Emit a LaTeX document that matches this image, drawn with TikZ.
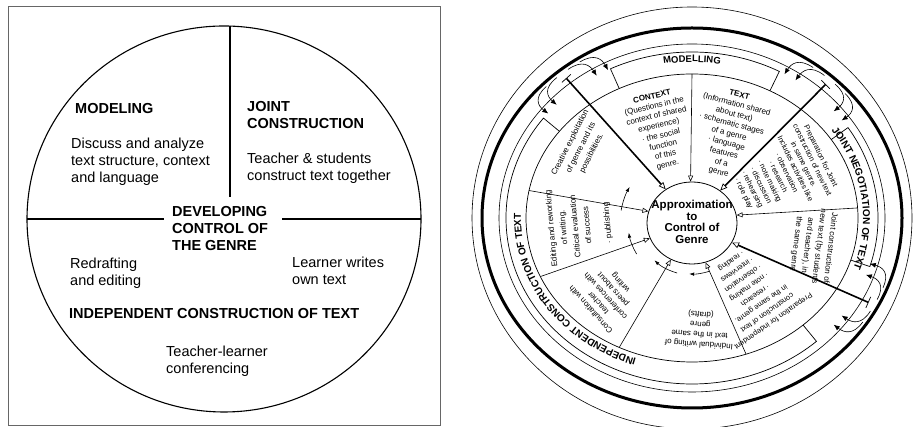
\documentclass[tikz,border=0pt]{standalone}
\usepackage{fontspec}
\setmainfont{Liberation Sans}
\usepackage{tikz}
\usetikzlibrary{shapes,arrows.meta,positioning,calc,decorations.text}

\newcommand{\bandfont}{\bfseries\fontsize{10}{12}\selectfont}

\tikzset{
  big/.style={inner sep=0pt, align=left, font=\fontsize{14.5}{17}\selectfont},
  bigb/.style={inner sep=0pt, align=left, font=\bfseries\fontsize{14.5}{17}\selectfont},
  wedge/.style={inner sep=0pt, align=center, font=\fontsize{8}{10}\selectfont},
  spoke/.style={line width=0.6pt, -{Triangle[open, length=6pt, width=5pt]}},
  mainspoke/.style={line width=1.6pt, {Bar[width=12pt, line width'=0.7pt]}-{Triangle[open, length=7pt, width=6pt, line width'=0.7pt]}},
  hook/.style={line width=0.6pt, -{Latex[length=6pt, width=5pt]}},
  swirl/.style={line width=0.6pt, -{Latex[length=5pt, width=3.5pt]}},
}

\begin{document}
\begin{tikzpicture}[x=1pt, y=1pt]
  \useasboundingbox (0,0) rectangle (913,427);

  % left cycle
  \draw[black!60, line width=0.8pt] (8,2) rectangle (440,421);
  \draw[line width=1.1pt] (224,208) ellipse [x radius=197, y radius=193];
  \draw[line width=1.1pt] (230,401) -- (230,230);
  \draw[line width=1.1pt] (27,208) -- (164,208);
  \draw[line width=1.1pt] (282,208) -- (421,208);

  \node[bigb, anchor=base west] (model) at (75,313) {MODELING};
  \node[big, anchor=north west] (modeltxt) at (71,289.6) {Discuss and analyze\\text structure, context\\and language};
  \node[bigb, anchor=north west] (joint) at (247,325.4) {JOINT\\CONSTRUCTION};
  \node[big, anchor=north west] (jointtxt) at (247,274.6) {Teacher \& students\\construct text together};
  \node[bigb, anchor=north west] (develop) at (172,220.4) {DEVELOPING\\CONTROL OF\\THE GENRE};
  \node[big, anchor=north west] (redraft) at (70,169.6) {Redrafting\\and editing};
  \node[big, anchor=north west] (learner) at (292,170.6) {Learner writes\\own text};
  \node[bigb, anchor=base west] (indep) at (69,108) {INDEPENDENT CONSTRUCTION OF TEXT};
  \node[big, anchor=north west] (confer) at (166,81.6) {Teacher-learner\\conferencing};

  % right cycle
  \coordinate (C) at (692,209);
  \coordinate (Cc) at (692,204);
  \draw[line width=0.6pt] (C) ellipse [x radius=220, y radius=211];
  \draw[line width=3pt] (C) ellipse [x radius=210, y radius=190];
  \draw[line width=0.6pt] (C) ellipse [x radius=193, y radius=174];
  \draw[line width=0.7pt] (C) ellipse [x radius=166, y radius=144];

  % label boxes
  \draw[line width=0.7pt] ($(C)+(62:166 and 144)$) -- ($(C)+(62:186 and 166)$)
    arc[start angle=62, end angle=116, x radius=186, y radius=166] -- ($(C)+(116:166 and 144)$);
  \draw[line width=0.7pt] ($(C)+(-17:166 and 144)$) -- ($(C)+(-17:186 and 166)$)
    arc[start angle=-17, end angle=33, x radius=186, y radius=166] -- ($(C)+(33:166 and 144)$);
  \draw[line width=0.7pt] ($(C)+(143:166 and 144)$) -- ($(C)+(143:186 and 166)$)
    arc[start angle=143, end angle=312, x radius=186, y radius=166] -- ($(C)+(312:166 and 144)$);

  \path[decorate, decoration={text along path, text align=center,
      text={|\bfseries\fontsize{9.5}{11}\selectfont|MODELLING}}]
    ($(C)+(110:176 and 156)$) arc[start angle=110, end angle=70, x radius=176, y radius=156];
  \path[decorate, decoration={text along path, text align=center,
      text={|\bandfont|JOINT NEGOTIATION OF TEXT}}]
    ($(C)+(38:171 and 152)$) arc[start angle=38, end angle=-22, x radius=171, y radius=152];
  \path[decorate, decoration={text along path, text align=center,
      text={|\bandfont|INDEPENDENT CONSTRUCTION OF TEXT}}]
    ($(C)+(-100:171 and 149)$) arc[start angle=-100, end angle=-192, x radius=171, y radius=149];

  % centre
  \node[ellipse, draw, line width=0.8pt, minimum width=90pt, minimum height=82pt, inner sep=0pt] (ctr) at (Cc) {};
  \node[align=center, inner sep=0pt, font=\bfseries\fontsize{11.5}{11.5}\selectfont] (ctrtxt) at (692,205) {Approximation\\to\\Control of\\Genre};

  % spokes
  \coordinate (ta) at ($(C)+(129:200 and 180)$);
  \coordinate (tc) at ($(C)+(48:200 and 180)$);
  \coordinate (te) at ($(C)+(-28:200 and 180)$);
  \coordinate (sb) at ($(C)+(90:166 and 144)$);
  \coordinate (sd) at ($(C)+(4:166 and 144)$);
  \coordinate (sf) at ($(C)+(-71:166 and 144)$);
  \coordinate (sg) at ($(C)+(-116:166 and 144)$);
  \coordinate (sh) at ($(C)+(-156:166 and 144)$);
  \coordinate (si) at ($(C)+(169:166 and 144)$);
  \draw[mainspoke] (ta) -- (ctr.128);
  \draw[mainspoke] (tc) -- (ctr.49);
  \draw[mainspoke] (te) -- (ctr.-26);
  \draw[spoke] (sb) -- (ctr.92);
  \draw[spoke] (sd) -- (ctr.10);
  \draw[spoke] (sf) -- (ctr.-71);
  \draw[spoke] (sg) -- (ctr.-120);
  \draw[spoke] (sh) -- (ctr.-160);
  \draw[spoke] (si) -- (ctr.165);

  % hooks leaving each main spoke
  \draw[hook] ($(C)+(127:206 and 186)$) .. controls ($(C)+(122:207 and 187)$) and ($(C)+(121:198 and 178)$) .. ($(C)+(121:185 and 166)$);
  \draw[hook] ($(C)+(123:206 and 186)$) .. controls ($(C)+(118:207 and 187)$) and ($(C)+(117:198 and 178)$) .. ($(C)+(117:185 and 166)$);
  \draw[hook] ($(C)+(131:206 and 186)$) .. controls ($(C)+(136:207 and 187)$) and ($(C)+(137:198 and 178)$) .. ($(C)+(137:185 and 166)$);
  \draw[hook] ($(C)+(135:206 and 186)$) .. controls ($(C)+(140:207 and 187)$) and ($(C)+(141:198 and 178)$) .. ($(C)+(141:185 and 166)$);
  \draw[hook] ($(C)+(46:206 and 186)$) .. controls ($(C)+(41:207 and 187)$) and ($(C)+(40:198 and 178)$) .. ($(C)+(40:185 and 166)$);
  \draw[hook] ($(C)+(42:206 and 186)$) .. controls ($(C)+(37:207 and 187)$) and ($(C)+(36:198 and 178)$) .. ($(C)+(36:185 and 166)$);
  \draw[hook] ($(C)+(50:206 and 186)$) .. controls ($(C)+(55:207 and 187)$) and ($(C)+(56:198 and 178)$) .. ($(C)+(56:185 and 166)$);
  \draw[hook] ($(C)+(54:206 and 186)$) .. controls ($(C)+(59:207 and 187)$) and ($(C)+(60:198 and 178)$) .. ($(C)+(60:185 and 166)$);
  \draw[hook] ($(C)+(-30:206 and 186)$) .. controls ($(C)+(-35:207 and 187)$) and ($(C)+(-36:198 and 178)$) .. ($(C)+(-36:185 and 166)$);
  \draw[hook] ($(C)+(-34:206 and 186)$) .. controls ($(C)+(-39:207 and 187)$) and ($(C)+(-40:198 and 178)$) .. ($(C)+(-40:185 and 166)$);
  \draw[hook] ($(C)+(-26:206 and 186)$) .. controls ($(C)+(-21:207 and 187)$) and ($(C)+(-20:198 and 178)$) .. ($(C)+(-20:185 and 166)$);
  \draw[hook] ($(C)+(-22:206 and 186)$) .. controls ($(C)+(-17:207 and 187)$) and ($(C)+(-16:198 and 178)$) .. ($(C)+(-16:185 and 166)$);

  % swirl round the centre
  \draw[swirl] ($(Cc)+(-71:54 and 51)$) arc[start angle=-71, end angle=-93, x radius=54, y radius=51];
  \draw[swirl] ($(Cc)+(-106:54 and 52)$) arc[start angle=-106, end angle=-134, x radius=54, y radius=52];
  \draw[swirl] ($(Cc)+(-150:64 and 62)$) arc[start angle=-150, end angle=-171, x radius=64, y radius=62];
  \draw[swirl] ($(Cc)+(170:72 and 72)$) arc[start angle=170, end angle=150, x radius=72, y radius=72];

  % wedge texts
  \node[wedge, rotate=63, font=\fontsize{8}{12}\selectfont] (creative) at (581,279) {Creative exploitation\\of genre and its\\possibilities.};
  \node[wedge, rotate=13] (context) at (660,296) {\textbf{CONTEXT}\\(Questions in the\\context of shared\\experience)\\· the social\\function\\of this\\genre.};
  \node[wedge, rotate=-15] (textinfo) at (729,293) {\textbf{TEXT}\\(Information shared\\about text)\\· schematic stages\\of a genre\\· language\\features\\of a\\genre};
  \node[wedge, rotate=-64, font=\fontsize{7.5}{9.5}\selectfont] (prepjoint) at (782,252) {Preparation for Joint\\construction of new text\\in same genre.\\Includes activities like\\· observation\\· research\\· note making\\· discussion\\· rehearsing\\· role play};
  \node[wedge, rotate=-97, font=\fontsize{8}{11.5}\selectfont] (jointcon) at (813,181) {Joint construction of\\new text (by students\\and teacher), in\\the same genre};
  \node[wedge, rotate=-145, font=\fontsize{7.5}{10.5}\selectfont] (prepind) at (752,136) {Preparation for independent\\construction of text\\in the same genre.\\· research\\· note making\\· observation\\· interviews\\· reading};
  \node[wedge, rotate=176] (indwrite) at (700,98) {Individual writing of\\text in the same\\genre\\(drafts)};
  \node[wedge, rotate=132] (consult) at (606,131) {Consultation with\\teacher\\conferences with\\peers about\\writing};
  \node[wedge, rotate=95, font=\fontsize{8}{12}\selectfont] (editing) at (569,200) {Editing and reworking\\of writing.\\Critical evaluation\\of success};
  \node[wedge, rotate=95] (publish) at (608,204) {· publishing};
\end{tikzpicture}
\end{document}
